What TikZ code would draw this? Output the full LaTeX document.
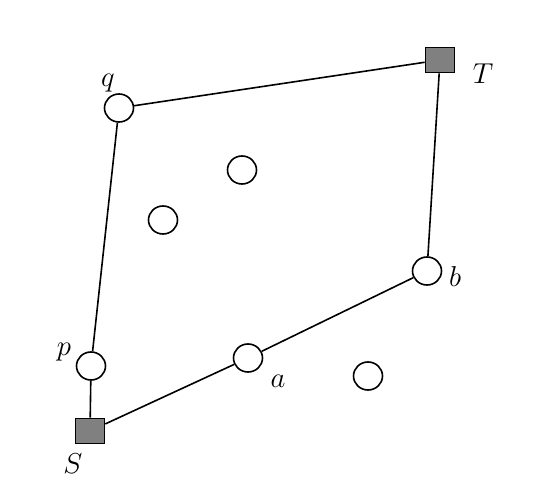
\documentclass[tikz,border=0pt]{standalone}
\usepackage{amsmath}
\usepackage{amssymb}
\usetikzlibrary{shapes}

\begin{document}
\begin{tikzpicture}[x=0.5pt,y=-0.5pt,line width=0.8pt,
  vert/.style={draw,ellipse,minimum width=14.5pt,minimum height=14pt,inner sep=0},
  term/.style={draw,rectangle,fill=gray,minimum width=14.5pt,minimum height=12.5pt,inner sep=0},
  lab/.style={draw=none,inner sep=0,font=\Large}]
\useasboundingbox (0,0) rectangle (552,480);
\node[term] (S) at (90,431) {};
\node[term] (T) at (440,60) {};
\node[vert] (p) at (91,366) {};
\node[vert] (q) at (119,108) {};
\node[vert] (a) at (248,358) {};
\node[vert] (b) at (427,271) {};
% free vertices
\node[vert] (u1) at (242,170) {};
\node[vert] (u2) at (163,220) {};
\node[vert] (u3) at (368,376) {};

\draw (S) -- (p);
\draw (p) -- (q);
\draw (q) -- (T);
\draw (T) -- (b);
\draw (b) -- (a);
\draw (a) -- (S);

\node[lab] (Sl) at (73,464) {$S$};
\node[lab] (Tl) at (483,74) {$T$};
\node[lab] (pl) at (64,352) {$p$};
\node[lab] (ql) at (108,83) {$q$};
\node[lab] (al) at (278,381) {$a$};
\node[lab] (bl) at (455,277) {$b$};
\end{tikzpicture}
\end{document}
